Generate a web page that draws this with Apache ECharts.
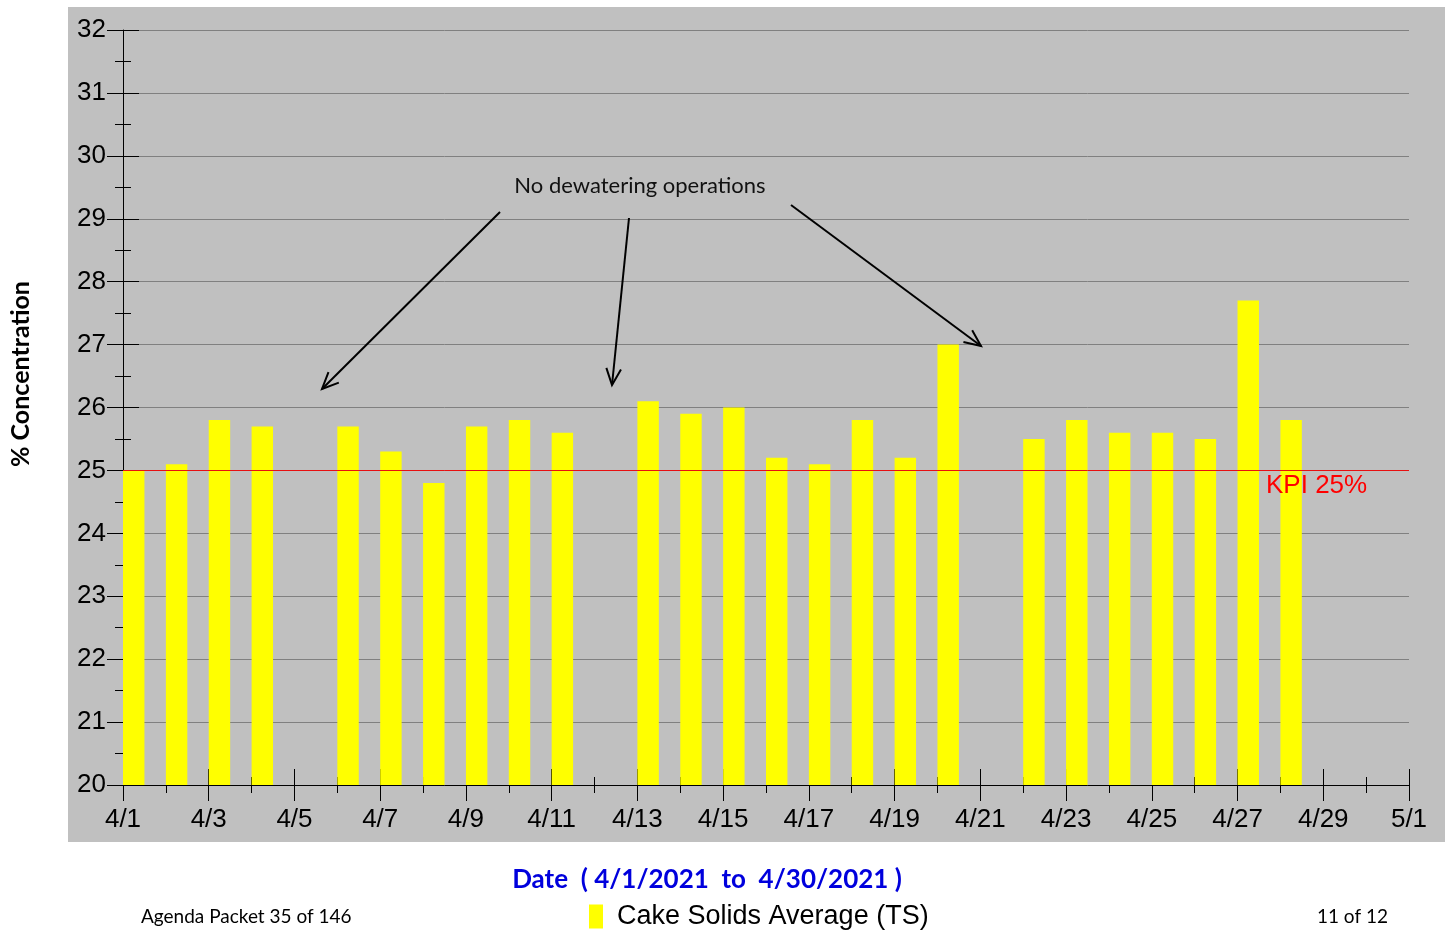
<!DOCTYPE html>
<html>
<head>
<meta charset="utf-8">
<script src="https://cdn.jsdelivr.net/npm/echarts@6/dist/echarts.min.js"></script>
<style>
html,body{margin:0;padding:0;background:#fff;}
#chart{width:1447px;height:933px;}
</style>
</head>
<body>
<div id="chart"></div>
<script>
// ---- data ----
var categories = ['4/1','4/2','4/3','4/4','4/5','4/6','4/7','4/8','4/9','4/10','4/11','4/12','4/13','4/14','4/15','4/16','4/17','4/18','4/19','4/20','4/21','4/22','4/23','4/24','4/25','4/26','4/27','4/28','4/29','4/30'];
var cakeSolids = [25.0,25.1,25.8,25.7,null,25.7,25.3,24.8,25.7,25.8,25.6,null,26.1,25.9,26.0,25.2,25.1,25.8,25.2,27.0,null,25.5,25.8,25.6,25.6,25.5,27.7,25.8,null,null];
var tickLabels = ['4/1','4/2','4/3','4/4','4/5','4/6','4/7','4/8','4/9','4/10','4/11','4/12','4/13','4/14','4/15','4/16','4/17','4/18','4/19','4/20','4/21','4/22','4/23','4/24','4/25','4/26','4/27','4/28','4/29','4/30','5/1'];
var kpiValue = 25;
var seriesName = 'Cake Solids Average (TS)';

var chart = echarts.init(document.getElementById('chart'));

var calibri = 'Lato, "Open Sans", sans-serif';
var arial = '"Liberation Sans", Arial, sans-serif';

function arrow(x1,y1,x2,y2){
  var a = Math.atan2(y2-y1, x2-x1);
  var L = 18, h = 0.42;
  var p1 = [x2 - L*Math.cos(a-h), y2 - L*Math.sin(a-h)];
  var p2 = [x2 - L*Math.cos(a+h), y2 - L*Math.sin(a+h)];
  return [
    {type:'line', shape:{x1:x1,y1:y1,x2:x2,y2:y2}, style:{stroke:'#000', lineWidth:2}, z:50},
    {type:'polyline', shape:{points:[p1,[x2,y2],p2]}, style:{stroke:'#000', lineWidth:2, fill:null}, z:50}
  ];
}

var graphics = [
  {type:'rect', shape:{x:68,y:7,width:1377,height:835}, style:{fill:'#c0c0c0'}, z:-100, silent:true},
  {type:'text', x:640, y:186, style:{text:'No dewatering operations', font:'22px '+calibri, fill:'#111', align:'center', verticalAlign:'middle'}, z:50},
  {type:'text', x:1266, y:486, style:{text:'KPI 25%', font:'26px '+arial, fill:'#ff0000', align:'left', verticalAlign:'middle'}, z:50},
  {type:'text', x:21, y:374, rotation:Math.PI/2, style:{text:'% Concentration', font:'bold 25px '+calibri, fill:'#000', align:'center', verticalAlign:'middle'}},
  {type:'text', x:707, y:880, style:{text:'Date  ( 4/1/2021  to  4/30/2021 )', font:'bold 26px '+calibri, fill:'#0000dd', align:'center', verticalAlign:'middle'}},
  {type:'text', x:141, y:917, style:{text:'Agenda Packet 35 of 146', font:'19px '+calibri, fill:'#000', align:'left', verticalAlign:'middle'}},
  {type:'text', x:1388, y:917, style:{text:'11 of 12', font:'19px '+calibri, fill:'#000', align:'right', verticalAlign:'middle'}}
].concat(arrow(500,212,322,389), arrow(629,218,612,385), arrow(791,205,981,346));

var option = {
  animation:false,
  backgroundColor:'#ffffff',
  grid:{left:123, right:38, top:30, bottom:148, containLabel:false},
  legend:{
    data:[seriesName], left:589, top:903, padding:0, icon:'rect', itemWidth:14, itemHeight:24,
    textStyle:{fontFamily:arial, fontSize:27, color:'#000', padding:[5,0,0,9]}
  },
  xAxis:[
    {type:'category', data:categories, boundaryGap:true, show:false},
    {type:'value', min:0, max:30, interval:2, position:'bottom',
     axisLine:{show:true, lineStyle:{color:'#000', width:1}},
     axisTick:{show:true, inside:false, length:16, lineStyle:{color:'#000'}},
     minorTick:{show:true, splitNumber:2, length:8, lineStyle:{color:'#000'}},
     splitLine:{show:false},
     axisLabel:{show:true, margin:22, fontFamily:arial, fontSize:26, color:'#000',
       formatter:function(v){return tickLabels[Math.round(v)];}}},
    {type:'value', min:0, max:30, interval:2, position:'bottom',
     axisLine:{show:false},
     axisTick:{show:true, inside:true, length:16, lineStyle:{color:'#000'}},
     minorTick:{show:true, splitNumber:2, length:8, lineStyle:{color:'#000'}},
     splitLine:{show:false}, axisLabel:{show:false}}
  ],
  yAxis:[
    {type:'value', min:20, max:32, interval:1, position:'left',
     axisLine:{show:true, lineStyle:{color:'#000', width:1}},
     axisTick:{show:true, inside:false, length:16, lineStyle:{color:'#000'}},
     minorTick:{show:true, splitNumber:2, length:8, lineStyle:{color:'#000'}},
     splitLine:{show:true, lineStyle:{color:'#808080', width:1}},
     axisLabel:{margin:17, fontFamily:arial, fontSize:26, color:'#000'}},
    {type:'value', min:20, max:32, interval:1, position:'left',
     axisLine:{show:false},
     axisTick:{show:true, inside:true, length:16, lineStyle:{color:'#000'}},
     minorTick:{show:true, splitNumber:2, length:8, lineStyle:{color:'#000'}},
     splitLine:{show:false}, axisLabel:{show:false}}
  ],
  series:[
    {name:seriesName, type:'bar', xAxisIndex:0, yAxisIndex:0, data:cakeSolids,
     barGap:'0%', barCategoryGap:'0%',
     itemStyle:{color:'#ffff00'},
     markLine:{silent:true, symbol:'none', label:{show:false},
       lineStyle:{color:'#e81010', width:1, type:'solid'},
       data:[{yAxis:kpiValue}]}, z:3},
    {name:'_pad', type:'bar', xAxisIndex:0, yAxisIndex:0,
     data:categories.map(function(){return null;}),
     barGap:'0%', barCategoryGap:'0%', itemStyle:{color:'transparent'}}
  ],
  graphic:graphics
};
chart.setOption(option);
</script>
</body>
</html>
